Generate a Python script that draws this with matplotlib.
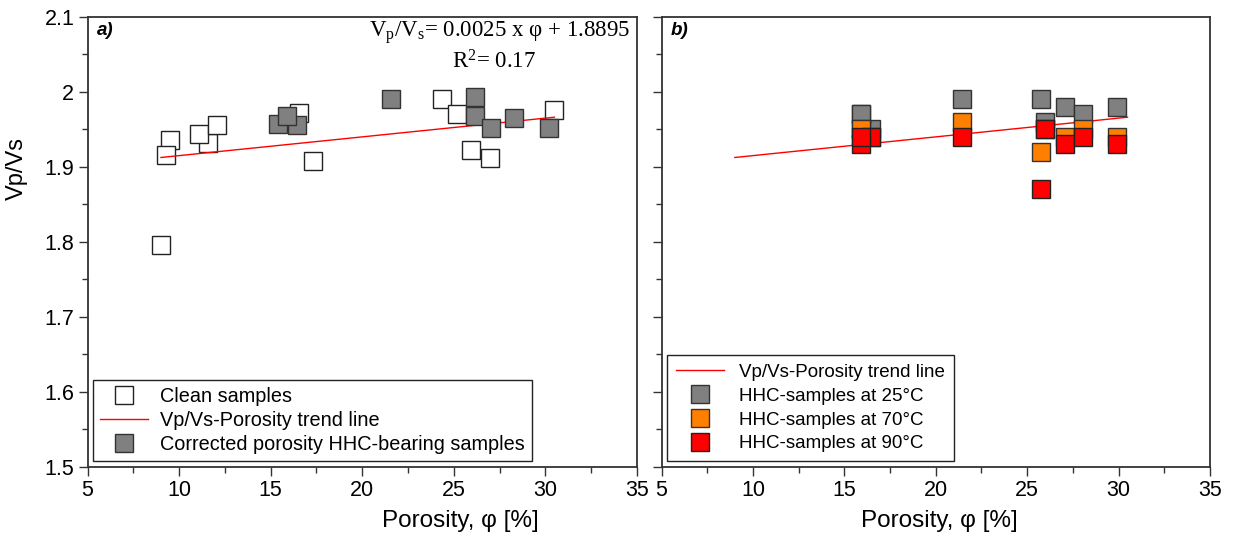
import matplotlib
matplotlib.use("Agg")
import matplotlib.pyplot as plt
from matplotlib.ticker import MultipleLocator, FuncFormatter

# ---------------- data ----------------
clean_phi = [9.01, 9.49, 9.30, 11.56, 11.08, 12.06, 16.56, 17.32, 24.38, 25.17, 25.91, 26.97, 30.49]
clean_vpvs = [1.796, 1.935, 1.916, 1.931, 1.944, 1.956, 1.971, 1.908, 1.990, 1.970, 1.922, 1.912, 1.976]

corr_phi = [15.39, 16.42, 15.88, 21.58, 26.15, 26.15, 27.01, 28.26, 30.22]
corr_vpvs = [1.957, 1.956, 1.967, 1.990, 1.993, 1.967, 1.951, 1.965, 1.951]

hhc_phi = [16.46, 15.93, 15.93, 21.41, 25.74, 25.95, 27.06, 28.07, 29.90]
vpvs_25C = [1.9505, 1.970, 1.970, 1.990, 1.990, 1.960, 1.980, 1.970, 1.980]
vpvs_70C = [1.940, 1.950, 1.950, 1.960, 1.920, 1.950, 1.940, 1.950, 1.940]
vpvs_90C = [1.940, 1.930, 1.940, 1.940, 1.870, 1.950, 1.930, 1.940, 1.930]

trend_slope = 0.0025
trend_intercept = 1.8895
trend_phi = [min(clean_phi), max(clean_phi)]
trend_vpvs = [trend_slope * p + trend_intercept for p in trend_phi]

x_ticks = [5, 10, 15, 20, 25, 30, 35]
y_ticks = [1.5, 1.6, 1.7, 1.8, 1.9, 2.0, 2.1]

# ---------------- style ----------------
plt.rcParams['font.family'] = ['Liberation Sans', 'DejaVu Sans']
plt.rcParams['mathtext.fontset'] = 'custom'
plt.rcParams['mathtext.rm'] = 'Liberation Serif'
plt.rcParams['mathtext.it'] = 'Liberation Serif:italic'

W, H = 1234, 542
fig = plt.figure(figsize=(W / 100, H / 100), dpi=100)

def px_axes(x0, x1, y0, y1):
    return fig.add_axes([x0 / W, (H - y1) / H, (x1 - x0) / W, (y1 - y0) / H])

AX_TOP, AX_BOT = 16.5, 466.5
axA = px_axes(87.5, 637, AX_TOP, AX_BOT)
axB = px_axes(661.5, 1210, AX_TOP, AX_BOT)

spine_col = '#333333'
ms = 13
mew = 1.0

def style_axes(ax, ylabels=True):
    ax.set_xlim(5, 35)
    ax.set_ylim(1.5, 2.1)
    ax.set_xticks(x_ticks)
    ax.set_yticks(y_ticks)
    ax.xaxis.set_minor_locator(MultipleLocator(2.5))
    ax.yaxis.set_minor_locator(MultipleLocator(0.05))
    ax.yaxis.set_major_formatter(FuncFormatter(lambda v, p: f"{v:g}"))
    ax.tick_params(which='both', direction='out', top=False, right=False,
                   color=spine_col, width=1.0, labelsize=15.5, pad=3)
    ax.tick_params(which='major', length=6.5)
    ax.tick_params(which='minor', length=4)
    if not ylabels:
        ax.tick_params(axis='y', labelleft=False)
    for s in ax.spines.values():
        s.set_color(spine_col)
        s.set_linewidth(1.3)

style_axes(axA)
style_axes(axB, ylabels=False)

def ax_frac_x(ax, px):
    x0, x1 = (87.5, 637) if ax is axA else (661.5, 1210)
    return (px - x0) / (x1 - x0)

axA.set_xlabel('Porosity, φ [%]', fontsize=17.5)
axA.xaxis.set_label_coords(ax_frac_x(axA, 460), -0.097)
axB.set_xlabel('Porosity, φ [%]', fontsize=17.5)
axB.xaxis.set_label_coords(ax_frac_x(axB, 939), -0.097)
axA.set_ylabel('Vp/Vs', fontsize=17)
axA.yaxis.set_label_coords(ax_frac_x(axA, 28), (AX_BOT - 169) / (AX_BOT - AX_TOP))

# ---------------- panel a ----------------
h_clean, = axA.plot(clean_phi, clean_vpvs, 's', ms=ms, mfc='white', mec='#222222', mew=mew,
                    label='Clean samples', zorder=3)
h_trendA, = axA.plot(trend_phi, trend_vpvs, '-', color='#ff0000', lw=1.0,
                     label='Vp/Vs-Porosity trend line', zorder=4)
h_corr, = axA.plot(corr_phi, corr_vpvs, 's', ms=ms, mfc='#808080', mec='#333333', mew=mew,
                   label='Corrected porosity HHC-bearing samples', zorder=5)

axA.text(0.017, 0.988, 'a)', transform=axA.transAxes, fontsize=13.5, fontweight='bold',
         fontstyle='italic', ha='left', va='top')
fig.text(500 / W, 1 - 33 / H, r'V$_{\mathrm{p}}$/V$_{\mathrm{s}}$= 0.0025 x φ + 1.8895',
         fontsize=16.5, family='Liberation Serif', ha='center', va='center')
fig.text(494 / W, 1 - 62 / H, r'R$^{2}$= 0.17', fontsize=16.5,
         family='Liberation Serif', ha='center', va='center')

axA.legend(handles=[h_clean, h_trendA, h_corr], loc='lower left', fontsize=14.3,
           frameon=True, fancybox=False, edgecolor='#222222', framealpha=1,
           handlelength=2.4, handletextpad=0.6, labelspacing=0.25,
           borderpad=0.35, borderaxespad=0.3)

# ---------------- panel b ----------------
h_trendB, = axB.plot(trend_phi, trend_vpvs, '-', color='#ff0000', lw=1.0,
                     label='Vp/Vs-Porosity trend line', zorder=2)
h25, = axB.plot(hhc_phi, vpvs_25C, 's', ms=ms, mfc='#808080', mec='#333333', mew=mew,
                label='HHC-samples at 25°C', zorder=3)
h70, = axB.plot(hhc_phi, vpvs_70C, 's', ms=ms, mfc='#ff8000', mec='#333333', mew=mew,
                label='HHC-samples at 70°C', zorder=4)
h90, = axB.plot(hhc_phi, vpvs_90C, 's', ms=ms, mfc='#ff0000', mec='#222222', mew=mew,
                label='HHC-samples at 90°C', zorder=5)

axB.text(0.017, 0.988, 'b)', transform=axB.transAxes, fontsize=13.5, fontweight='bold',
         fontstyle='italic', ha='left', va='top')

axB.legend(handles=[h_trendB, h25, h70, h90], loc='lower left', fontsize=13.5,
           frameon=True, fancybox=False, edgecolor='#222222', framealpha=1,
           handlelength=2.6, handletextpad=0.8, labelspacing=0.36,
           borderpad=0.45, borderaxespad=0.3)

fig.savefig('out.png', dpi=100)
